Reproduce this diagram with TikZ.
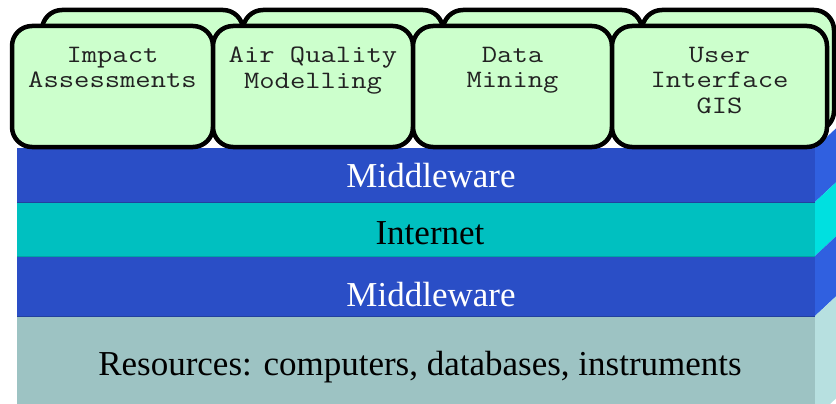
\documentclass[tikz,border=0pt]{standalone}
\usepackage{fontspec}
\setmainfont{Liberation Serif}
\newfontfamily\monofam[FakeStretch=1.19]{Latin Modern Mono}
\definecolor{mwblue}{HTML}{2A4EC6}
\definecolor{mwside}{HTML}{3060E0}
\definecolor{mwedge}{HTML}{22409E}
\definecolor{netteal}{HTML}{00C0C0}
\definecolor{netside}{HTML}{00E0E0}
\definecolor{netedge}{HTML}{00A4A4}
\definecolor{resgray}{HTML}{9DC3C3}
\definecolor{resside}{HTML}{B7E0E0}
\definecolor{boxgreen}{HTML}{CCFFCC}
\definecolor{boxtext}{HTML}{222222}
\tikzset{
  layer/.style={rectangle, draw=none, inner sep=0pt, outer sep=0pt, anchor=north west, minimum width=798pt},
  appbox/.style={rectangle, draw=black, line width=4.5pt, fill=boxgreen, rounded corners=20pt,
                 anchor=north west, minimum height=121pt, inner sep=0pt, outer sep=0pt},
  applabel/.style={font=\monofam\fontsize{25}{25.5}\selectfont, text=boxtext, align=center,
                   anchor=north, inner sep=0pt},
  layertext/.style={font=\fontsize{35}{40}\selectfont, anchor=base, inner sep=0pt}
}
\begin{document}
\begin{tikzpicture}[x=1pt,y=-1pt]
\clip (0,0) rectangle (836,404);
\fill[white] (0,0) rectangle (836,404);
% layers (front faces)
\node[layer, fill=mwblue,  minimum height=54pt]  (mw1) at (17,148) {};
\node[layer, fill=netteal, minimum height=54pt]  (net) at (17,202) {};
\node[layer, fill=mwblue,  minimum height=60pt]  (mw2) at (17,256) {};
\node[layer, fill=resgray, minimum height=102pt] (res) at (17,316) {};
% side faces
\fill[mwside]  (mw1.north east) -- ++(30,-28) -- ([shift={(30pt,28pt)}]mw1.south east) -- (mw1.south east) -- cycle;
\fill[netside] (net.north east) -- ++(30,-28) -- ([shift={(30pt,28pt)}]net.south east) -- (net.south east) -- cycle;
\fill[mwside]  (mw2.north east) -- ++(30,-28) -- ([shift={(30pt,28pt)}]mw2.south east) -- (mw2.south east) -- cycle;
\fill[resside] (res.north east) -- ++(30,-28) -- ([shift={(30pt,28pt)}]res.south east) -- (res.south east) -- cycle;
% thin edges between layers
\draw[mwedge, line width=1pt]  (mw1.south west) -- (mw1.south east);
\draw[netedge, line width=1pt] (net.south west) -- (net.south east);
\draw[mwedge, line width=1pt]  (mw2.south west) -- (mw2.south east);
% layer texts
\node[layertext, text=white] (t1) at (431,187) {Middleware};
\node[layertext, text=black] (t2) at (430,244) {Internet};
\node[layertext, text=white] (t3) at (431,306) {Middleware};
\node[layertext, text=black] (t4) at (420,375) {Resources: computers, databases, instruments};
% back boxes
\node[appbox, minimum width=201pt] (bb1) at (42,10)  {};
\node[appbox, minimum width=200pt] (bb2) at (243,10) {};
\node[appbox, minimum width=199pt] (bb3) at (443,10) {};
\node[appbox, minimum width=192pt] (bb4) at (642,10) {};
% front boxes
\node[appbox, minimum width=201pt] (fb1) at (12,26)  {};
\node[appbox, minimum width=200pt] (fb2) at (213,26) {};
\node[appbox, minimum width=199pt] (fb3) at (413,26) {};
\node[appbox, minimum width=215pt] (fb4) at (612,26) {};
% labels
\node[applabel] (l1) at ([yshift=-21pt]fb1.north) {Impact\\Assessments};
\node[applabel] (l2) at ([yshift=-21pt]fb2.north) {Air Quality\\Modelling};
\node[applabel] (l3) at ([yshift=-21pt]fb3.north) {Data\\Mining};
\node[applabel] (l4) at ([yshift=-21pt]fb4.north) {User\\Interface\\GIS};
\end{tikzpicture}
\end{document}
